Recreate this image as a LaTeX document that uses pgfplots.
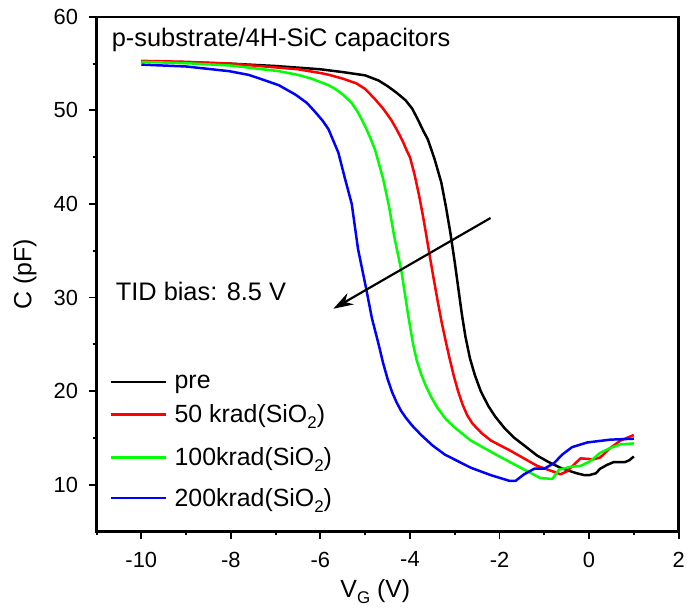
\documentclass[border=0pt]{standalone}
\usepackage{fontspec}
\setmainfont{Liberation Sans}
\usepackage{pgfplots}
\pgfplotsset{compat=1.18}
\usetikzlibrary{arrows.meta}

\newcommand{\sub}[1]{\raisebox{-0.45ex}{\fontsize{17}{17}\selectfont #1}}
\pgfplotsset{
  leg/.style={legend image code/.code={%
    \draw[##1,line width=2.5pt] (0pt,0pt) -- (56pt,0pt);
    \path (0pt,-#1) (0pt,#1);}},
}

\begin{document}
\begin{tikzpicture}
\begin{axis}[
  scale only axis,
  width=585pt, height=517pt,
  xmin=-11, xmax=2, ymin=5, ymax=60,
  xtick={-10,-8,...,2}, ytick={10,20,...,60},
  minor xtick={-11,-9,...,1}, minor ytick={15,25,...,55},
  xtick pos=bottom, ytick pos=left,
  tick align=outside,
  major tick length=8pt, minor tick length=4pt,
  line width=2.5pt,
  major tick style={black, line width=2pt},
  minor tick style={black, line width=2pt},
  tick label style={font=\fontsize{22}{26}\selectfont},
  xticklabel style={yshift=-8pt},
  yticklabel style={xshift=-6pt},
  /pgf/number format/assume math mode=true,
  xlabel={V\sub{G} (V)},
  ylabel={C (pF)},
  every axis x label/.style={at={(axis description cs:0.479,-0.128)}, anchor=base,
    font=\fontsize{25}{30}\selectfont},
  every axis y label/.style={at={(axis description cs:-0.123,0.5)}, anchor=center,
    rotate=90, font=\fontsize{25}{30}\selectfont},
  legend style={at={(0.015,0.320)}, anchor=north west, draw=none, fill=none,
    font=\fontsize{25}{30}\selectfont, row sep=0pt,
    /tikz/every odd column/.append style={column sep=5pt}},
  legend cell align=left,
]

% pre
\addplot[black, line width=2.5pt, line join=round, leg=11pt] coordinates {
(-10,55.25) (-9,55.15) (-8,55.0) (-7,54.75) (-6,54.4) (-5.5,54.1) (-5,53.75)
(-4.7,53.2) (-4.5,52.6) (-4.3,51.9) (-4.1,51.1) (-3.95,50.2) (-3.82,49.0)
(-3.7,47.8) (-3.6,46.9) (-3.45,44.8) (-3.3,42.3) (-3.2,39.8) (-3.1,37.0)
(-3.0,33.8) (-2.92,31.0) (-2.84,28.2) (-2.76,25.8) (-2.66,23.5) (-2.55,21.7)
(-2.42,20.0) (-2.25,18.4) (-2.1,17.3) (-1.9,16.1) (-1.67,15.0) (-1.4,14.0)
(-1.16,13.1) (-0.9,12.4) (-0.64,11.8) (-0.4,11.4) (-0.27,11.2) (-0.1,11.0)
(0.0,11.0) (0.15,11.2) (0.25,11.7) (0.4,12.1) (0.55,12.4) (0.8,12.4)
(0.9,12.6) (1.0,13.0)
};
\addlegendentry{pre}

% 50 krad
\addplot[red, line width=2.5pt, line join=round, leg=19pt] coordinates {
(-10,55.3) (-9,55.2) (-8,55.0) (-7,54.6) (-6.5,54.4) (-6,54.0) (-5.8,53.8)
(-5.5,53.4) (-5.2,52.9) (-5.0,52.3) (-4.78,51.2) (-4.6,50.2) (-4.42,49.0)
(-4.3,48.0) (-4.16,46.7) (-4.08,45.8) (-4.0,45.0) (-3.9,43.2) (-3.8,41.0)
(-3.72,39.0) (-3.64,36.8) (-3.56,34.5) (-3.47,32.0) (-3.38,29.6) (-3.29,27.3)
(-3.2,25.3) (-3.12,23.6) (-3.02,21.6) (-2.92,19.9) (-2.82,18.5) (-2.72,17.4)
(-2.6,16.5) (-2.4,15.5) (-2.19,14.7) (-1.75,13.6) (-1.16,12.0) (-0.75,11.3)
(-0.64,11.1) (-0.5,11.4) (-0.41,11.8) (-0.19,12.8) (0.1,12.7) (0.25,12.9)
(0.47,13.9) (0.7,14.7) (1.0,15.3)
};
\addlegendentry{50 krad(SiO\sub{2})}

% 100 krad
\addplot[green, line width=2.5pt, line join=round, leg=21.5pt] coordinates {
(-10,55.2) (-9,55.05) (-8,54.8) (-7.29,54.4) (-6.93,54.2) (-6.5,53.8)
(-6.2,53.4) (-5.82,52.7) (-5.67,52.3) (-5.5,51.7) (-5.3,50.8) (-5.15,49.7)
(-5.0,48.3) (-4.88,47.0) (-4.78,45.8) (-4.6,42.7) (-4.47,39.8) (-4.35,36.5)
(-4.19,32.8) (-4.04,28.1) (-3.93,25.0) (-3.85,23.3) (-3.75,21.8) (-3.65,20.6)
(-3.53,19.4) (-3.4,18.3) (-3.2,17.0) (-3.0,16.1) (-2.64,14.7) (-2.04,13.1)
(-1.53,11.8) (-1.09,10.7) (-0.82,10.6) (-0.67,11.6) (-0.41,11.9) (-0.19,12.0)
(0.03,12.5) (0.25,13.4) (0.47,13.9) (0.7,14.3) (1.0,14.4)
};
\addlegendentry{100krad(SiO\sub{2})}

% 200 krad
\addplot[blue, line width=2.5pt, line join=round, leg=17pt] coordinates {
(-10,54.9) (-9,54.7) (-8.04,54.2) (-7.6,53.8) (-7.29,53.3) (-6.93,52.7)
(-6.56,51.7) (-6.3,50.8) (-6.11,49.8) (-5.95,48.9) (-5.82,48.0) (-5.6,45.5)
(-5.45,42.7) (-5.3,40.0) (-5.16,35.2) (-4.98,31.0) (-4.85,27.8) (-4.7,25.0)
(-4.6,23.0) (-4.5,21.3) (-4.4,19.9) (-4.3,18.8) (-4.2,17.9) (-4.1,17.2)
(-3.95,16.3) (-3.75,15.3) (-3.5,14.2) (-3.22,13.2) (-2.64,11.8) (-2.19,11.0)
(-1.78,10.4) (-1.64,10.4) (-1.45,11.1) (-1.22,11.7) (-1.0,11.7) (-0.78,12.3)
(-0.6,13.2) (-0.38,14.0) (-0.04,14.5) (0.47,14.8) (1.0,14.9)
};
\addlegendentry{200krad(SiO\sub{2})}

\node[anchor=base west, font=\fontsize{25.5}{30}\selectfont]
  at (axis cs:-10.76,56.84) {p-substrate/4H-SiC capacitors};
\node[anchor=base west, font=\fontsize{25.5}{30}\selectfont]
  at (axis cs:-10.67,29.71) {TID bias: 8.5 V};
\draw[-{Stealth[length=20pt,width=13pt]}, line width=2.2pt]
  (axis cs:-2.2,38.5) -- (axis cs:-5.71,28.8);

\coordinate (SW) at (rel axis cs:0,0);
\coordinate (NE) at (rel axis cs:1,1);
\end{axis}
\path (SW) ++(-97pt,-77pt) (NE) ++(6pt,17pt);
\end{tikzpicture}
\end{document}
